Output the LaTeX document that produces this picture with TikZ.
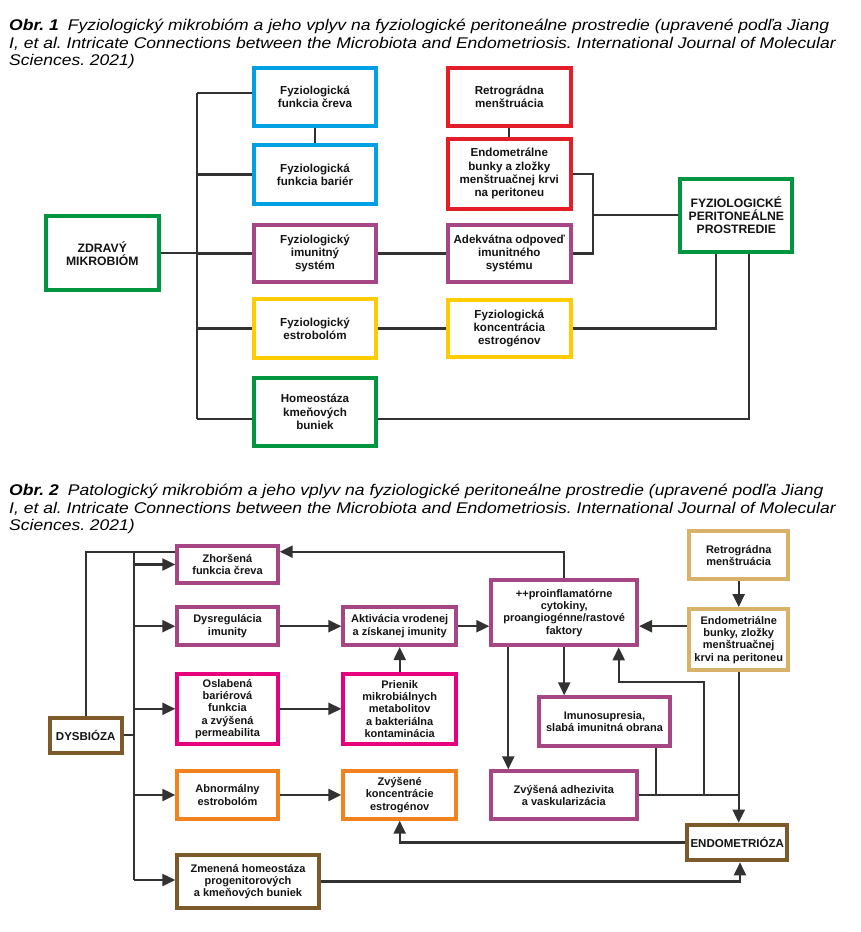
\documentclass[tikz,border=0pt]{standalone}
\usepackage{fontspec}
\setmainfont{Liberation Sans}
\newfontfamily\capfont[FakeStretch=1.13]{Liberation Sans}
\usetikzlibrary{arrows.meta}
\definecolor{cblue}{RGB}{0,160,227}
\definecolor{cred}{RGB}{227,30,40}
\definecolor{cpurple}{RGB}{166,70,132}
\definecolor{cyellow}{RGB}{255,204,0}
\definecolor{cgreen}{RGB}{0,150,64}
\definecolor{cmagenta}{RGB}{230,0,126}
\definecolor{corange}{RGB}{242,130,30}
\definecolor{ctan}{RGB}{216,178,104}
\definecolor{cbrown}{RGB}{125,90,42}
\definecolor{lncol}{RGB}{50,50,50}
\definecolor{txcol}{RGB}{20,20,20}
\tikzset{
  bx/.style={draw=#1, line width=4pt, fill=white, align=center, inner sep=0pt, text=txcol},
  sz/.style 2 args={minimum width=#1pt, minimum height=#2pt},
  fa/.style={font=\fontsize{11.6}{13.3}\selectfont\bfseries},
  fA/.style={font=\fontsize{12.2}{13.3}\selectfont\bfseries},
  fb/.style={font=\fontsize{11}{12.3}\selectfont\bfseries},
  fB/.style={font=\fontsize{11.5}{12.3}\selectfont\bfseries},
  ln/.style={draw=lncol, line width=2.3pt},
  arr/.style={ln, -{Triangle[length=13pt,width=12pt]}},
  captxt/.style={anchor=base west, inner sep=0pt, font=\capfont\fontsize{15.5}{17}\selectfont\itshape\frenchspacing, text=black}
}
\begin{document}
\begin{tikzpicture}[x=1pt,y=-1pt]
\useasboundingbox (0,0) rectangle (860,932);
\fill[white] (0,0) rectangle (860,932);

% ---------- Captions ----------
\node[captxt] (c1a) at (9,30) {\textbf{Obr. 1}\hspace{9pt}Fyziologický mikrobióm a jeho vplyv na fyziologické peritoneálne prostredie (upravené podľa Jiang};
\node[captxt] (c1b) at (9,48) {I, et al. Intricate Connections between the Microbiota and Endometriosis. International Journal of Molecular};
\node[captxt] (c1c) at (9,65) {Sciences. 2021)};
\node[captxt] (c2a) at (9,495) {\textbf{Obr. 2}\hspace{9pt}Patologický mikrobióm a jeho vplyv na fyziologické peritoneálne prostredie (upravené podľa Jiang};
\node[captxt] (c2b) at (9,513) {I, et al. Intricate Connections between the Microbiota and Endometriosis. International Journal of Molecular};
\node[captxt] (c2c) at (9,530) {Sciences. 2021)};

% ---------- Figure 1 ----------
\coordinate (busT) at (196.7,93.3);
\coordinate (busB) at (196.7,419.3);
\coordinate (j1) at (592.7,215.3);

\draw[ln] (busT) -- (busB);

\node[bx=cblue, fa, sz={122}{58}] (b1) at (315,97) {Fyziologická\\funkcia čreva};
\node[bx=cblue, fa, sz={122}{58.4}] (b2) at (315,174.5) {Fyziologická\\funkcia bariér};
\node[bx=cpurple, fa, sz={122}{57.6}] (p1) at (315,253.5) {Fyziologický\\imunitný\\systém};
\node[bx=cyellow, fa, sz={122}{58.3}] (y1) at (315,328.5) {Fyziologický\\estrobolóm};
\node[bx=cgreen, fa, sz={122}{68}] (g1) at (315,412) {Homeostáza\\kmeňových\\buniek};
\node[bx=cgreen, fA, sz={112.7}{74}] (z) at (102.3,253.3) {ZDRAVÝ\\MIKROBIÓM};
\node[bx=cred, fa, sz={122.7}{57.7}] (r1) at (509.3,96.8) {Retrográdna\\menštruácia};
\node[bx=cred, fa, sz={122.7}{70}] (r2) at (509.3,173.7) {Endometrálne\\bunky a zložky\\menštruačnej krvi\\na peritoneu};
\node[bx=cpurple, fa, sz={122.7}{57.6}] (p2) at (509.3,253.5) {Adekvátna odpoveď\\imunitného\\systému};
\node[bx=cyellow, fa, sz={122.7}{57.3}] (y2) at (509.3,328.5) {Fyziologická\\koncentrácia\\estrogénov};
\node[bx=cgreen, fA, sz={112}{73.3}] (g2) at (736.3,215.3) {FYZIOLOGICKÉ\\PERITONEÁLNE\\PROSTREDIE};

\draw[ln] (z.east) -- (z.east -| busT);
\draw[ln] (busT) -- (busT -| b1.west);
\draw[ln] (b2.west -| busT) -- (b2.west);
\draw[ln] (p1.west -| busT) -- (p1.west);
\draw[ln] (y1.west -| busT) -- (y1.west);
\draw[ln] (busB) -- (busB -| g1.west);
\draw[ln] (b1.south) -- (b2.north);
\draw[ln] (r1.south) -- (r2.north);
\draw[ln] (p1.east) -- (p2.west);
\draw[ln] (y1.east) -- (y2.west);
\draw[ln] (r2.east) -| (j1) |- (p2.east);
\draw[ln] (j1) -- (g2.west);
\draw[ln] (y2.east) -| ([xshift=-20.3pt]g2.south);
\draw[ln] (busB -| g1.east) -| ([xshift=13pt]g2.south);

% ---------- Figure 2 ----------
\coordinate (c2t) at (134.3,551.7);
\coordinate (c2b) at (134.3,880);

\node[bx=cpurple, fb, sz={100.4}{37.6}] (zh) at (227.5,564.5) {Zhoršená\\funkcia čreva};
\node[bx=cpurple, fb, sz={100.4}{37.7}] (dy) at (227.5,626.2) {Dysregulácia\\imunity};
\node[bx=cpurple, fb, sz={112.7}{37.7}] (ak) at (399.7,626.2) {Aktivácia vrodenej\\a získanej imunity};
\node[bx=cmagenta, fb, sz={100.4}{69.7}] (os) at (227.5,708.8) {Oslabená\\bariérová\\funkcia\\a zvýšená\\permeabilita};
\node[bx=cmagenta, fb, sz={112.7}{69.7}] (pr) at (399.7,708.8) {Prienik\\mikrobiálnych\\metabolitov\\a bakteriálna\\kontaminácia};
\node[bx=cbrown, fB, sz={72}{34.7}] (ds) at (85.7,735.3) {DYSBIÓZA};
\node[bx=corange, fb, sz={100.4}{47.4}] (ab) at (227.5,795) {Abnormálny\\estrobolóm};
\node[bx=corange, fb, sz={112.7}{47.4}] (zv) at (399.7,795) {Zvýšené\\koncentrácie\\estrogénov};
\node[bx=cbrown, fb, sz={141.4}{53.6}] (zm) at (248,881.5) {Zmenená homeostáza\\progenitorových\\a kmeňových buniek};
\node[bx=cpurple, fb, sz={145.7}{65.3}] (pi) at (564.2,612.7) {++proinflamatórne\\cytokiny,\\proangiogénne/rastové\\faktory};
\node[bx=ctan, fb, sz={99.3}{48}] (rt) at (738.7,555.3) {Retrográdna\\menštruácia};
\node[bx=ctan, fb, sz={99.3}{61.3}] (en) at (738.7,639.7) {Endometriálne\\bunky, zložky\\menštruačnej\\krvi na peritoneu};
\node[bx=cpurple, fb, sz={131}{48.7}] (im) at (604.5,721.7) {Imunosupresia,\\slabá imunitná obrana};
\node[bx=cpurple, fb, sz={146.3}{48}] (ad) at (563.8,795.3) {Zvýšená adhezivita\\a vaskularizácia};
\node[bx=cbrown, fB, sz={99.7}{35.6}] (eo) at (737.2,842.5) {ENDOMETRIÓZA};

\coordinate (lp) at (704.3,795.3);
\coordinate (lq) at (618.7,681.7);

\draw[ln] (ds.north) |- (c2t -| zh.west);
\draw[ln] (c2t) -- (c2b);
\draw[ln] (ds.east) -- (ds.east -| c2t);
\draw[arr] (zh.west -| c2t) -- (zh.west);
\draw[arr] (dy.west -| c2t) -- (dy.west);
\draw[arr] (os.west -| c2t) -- (os.west);
\draw[arr] (ab.west -| c2t) -- (ab.west);
\draw[arr] (c2b) -- (c2b -| zm.west);

\draw[arr] (dy.east) -- (ak.west);
\draw[arr] (os.east) -- (pr.west);
\draw[arr] (ab.east) -- (zv.west);
\draw[arr] (pr.north) -- (ak.south);
\draw[arr] (ak.east) -- (ak.east -| pi.west);
\draw[arr] (pi.north) |- (c2t -| zh.east);
\draw[arr] (rt.south) -- (en.north);
\draw[arr] (en.west |- ak.east) -- (pi.east |- ak.east);
\draw[arr] (pi.south) -- (pi.south |- im.north);
\draw[arr] ([xshift=-55.9pt]pi.south) -- ([xshift=-55.9pt]pi.south |- ad.north);
\draw[ln] (ad.east) -- (ad.east -| en.south);
\draw[ln] ([xshift=51.2pt]im.south) -- ([xshift=51.2pt]im.south |- ad.east);
\draw[arr] (lp) |- (lq) -- (lq |- pi.south);
\draw[arr] (en.south) -- (en.south |- eo.north);
\draw[arr] (eo.west) -| (zv.south);
\draw[arr] (zm.east) -| ([xshift=2.8pt]eo.south);
\end{tikzpicture}
\end{document}
